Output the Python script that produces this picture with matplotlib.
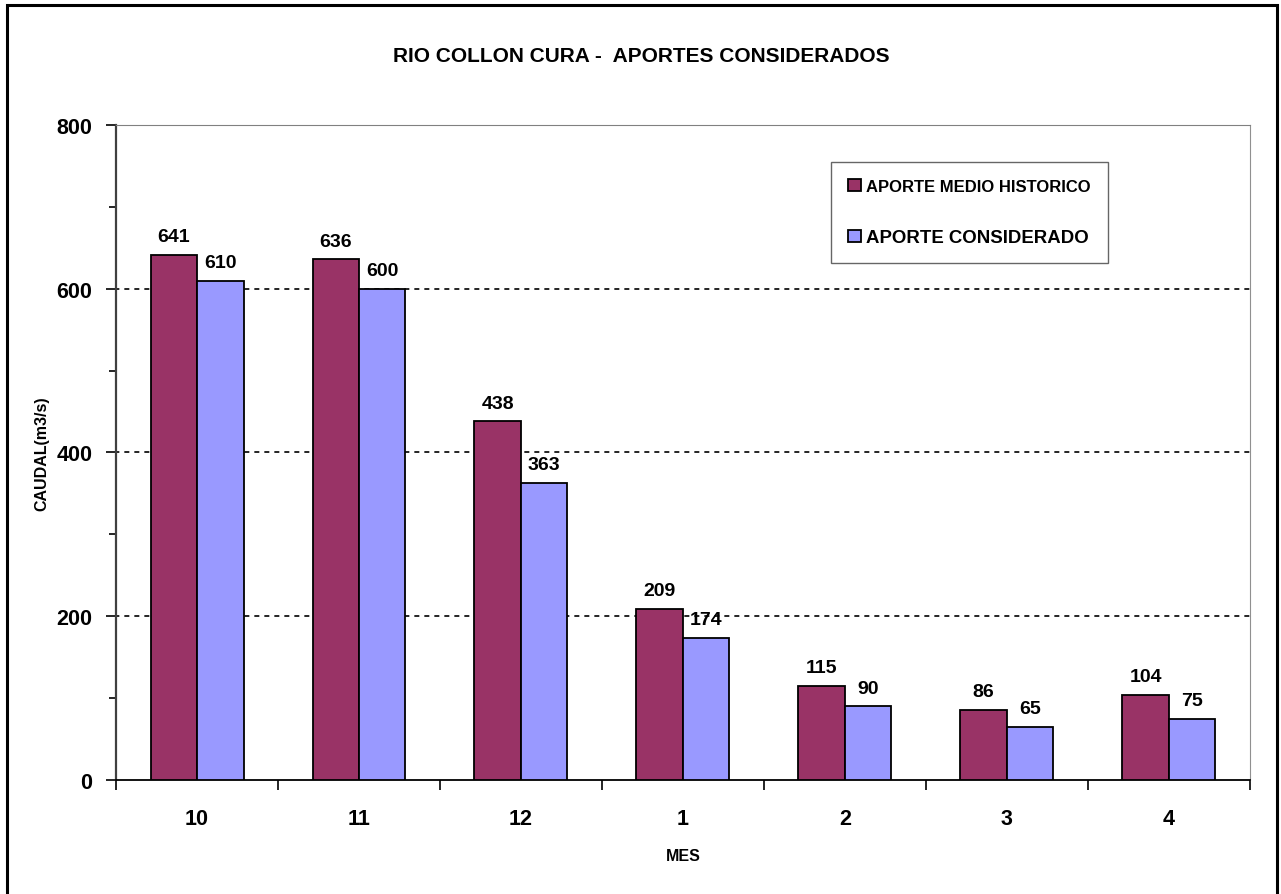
import numpy as np
import matplotlib.pyplot as plt
from matplotlib.patches import Rectangle

plt.rcParams['font.family'] = ['Liberation Sans', 'DejaVu Sans']
plt.rcParams['font.weight'] = 'bold'

meses = ['10', '11', '12', '1', '2', '3', '4']
historico = [641, 636, 438, 209, 115, 86, 104]
considerado = [610, 600, 363, 174, 90, 65, 75]

col_hist = '#993366'
col_cons = '#9999FF'

fig = plt.figure(figsize=(12.81, 8.95), dpi=100)
ax = fig.add_axes([0.0906, 0.1274, 0.885, 0.7318])

x = np.arange(len(meses))
w = 0.287
b1 = ax.bar(x - w / 2, historico, w, color=col_hist, edgecolor='black', linewidth=1.3,
            label='APORTE MEDIO HISTORICO', zorder=3)
b2 = ax.bar(x + w / 2, considerado, w, color=col_cons, edgecolor='black', linewidth=1.3,
            label='APORTE CONSIDERADO', zorder=3)

for bars, vals in ((b1, historico), (b2, considerado)):
    for r, v in zip(bars, vals):
        ax.annotate(str(v), (r.get_x() + r.get_width() / 2, v), xytext=(0, 7),
                    textcoords='offset points', ha='center', va='bottom',
                    fontsize=14, fontweight='bold')

ax.set_xlim(-0.5, len(meses) - 0.5)
ax.set_ylim(0, 800)
ax.set_yticks([0, 200, 400, 600, 800])
ax.set_yticks(np.arange(100, 800, 200), minor=True)
ax.set_xticks(x)
ax.set_xticklabels(meses)
ax.set_xticks(np.arange(-0.5, len(meses), 1), minor=True)

ax.tick_params(axis='x', which='major', length=0, pad=20, labelsize=15.5)
ax.tick_params(axis='x', which='minor', length=7, width=1.2, direction='out')
ax.tick_params(axis='y', which='major', length=7, width=1.2, pad=10, labelsize=15.5)
ax.tick_params(axis='y', which='minor', length=5, width=1.2)

# dashed guide lines, drawn as plain segments behind the bars
for yv in (200, 400, 600):
    ax.plot([-0.5, len(meses) - 0.5], [yv, yv], color='black', linestyle=(1, (3, 3)),
            linewidth=1.2, zorder=2)

ax.spines['top'].set_color('#808080')
ax.spines['top'].set_linestyle((0, (3, 1)))
ax.spines['right'].set_color('#909090')
ax.spines['left'].set_color('#404040')
ax.spines['left'].set_linewidth(1.6)
ax.spines['bottom'].set_color('black')
ax.spines['bottom'].set_linewidth(1.3)

ax.set_ylabel('CAUDAL(m3/s)', fontsize=11.5, fontweight='bold', labelpad=5)
ax.set_xlabel('MES', fontsize=11.5, fontweight='bold', labelpad=14)

fig.text(0.501, 0.937, 'RIO COLLON CURA -  APORTES CONSIDERADOS', ha='center', va='center',
         fontsize=15, fontweight='bold')

leg = ax.legend(loc='upper left', bbox_to_anchor=(0.631, 0.9435), frameon=True,
                fancybox=False, handlelength=0.8, handleheight=0.8, handletextpad=0.3,
                labelspacing=2.1, borderpad=1.0, borderaxespad=0, prop={'weight': 'bold', 'size': 12})
leg.get_frame().set_edgecolor('#404040')
leg.get_frame().set_linewidth(1.0)
leg.get_texts()[1].set_fontsize(13.4)

fig.patches.append(Rectangle((7 / 1281, -0.01), 1270 / 1281, 1 - 6 / 895 + 0.01,
                             transform=fig.transFigure, fill=False, edgecolor='black',
                             linewidth=2.2))

fig.savefig('out.png', dpi=100)
